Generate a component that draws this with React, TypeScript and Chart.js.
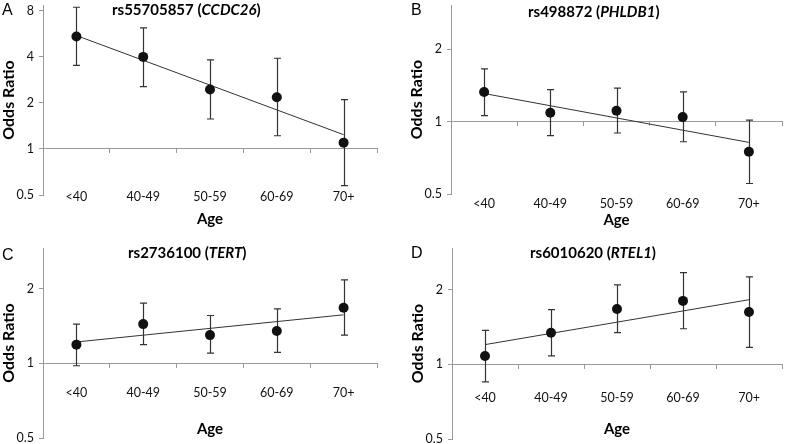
import React, { useEffect, useRef } from "react";
import { Chart, registerables } from "chart.js";

Chart.register(...registerables);

// ---------- data ----------
const ageGroups = ["<40", "40-49", "50-59", "60-69", "70+"];

const orA = [5.44, 4.0, 2.45, 2.18, 1.1];
const lowA = [3.52, 2.56, 1.57, 1.22, 0.576];
const highA = [8.45, 6.2, 3.83, 3.92, 2.1];
const trendA = [5.52, null, null, null, 1.24];

const orB = [1.33, 1.09, 1.11, 1.045, 0.75];
const lowB = [1.06, 0.875, 0.897, 0.825, 0.553];
const highB = [1.66, 1.36, 1.38, 1.33, 1.016];
const trendB = [1.31, null, null, null, 0.82];

const orC = [1.19, 1.44, 1.3, 1.35, 1.675];
const lowC = [0.978, 1.19, 1.1, 1.107, 1.3];
const highC = [1.44, 1.75, 1.56, 1.66, 2.17];
const trendC = [1.22, null, null, null, 1.57];

const orD = [1.08, 1.34, 1.67, 1.8, 1.625];
const lowD = [0.85, 1.08, 1.34, 1.39, 1.17];
const highD = [1.37, 1.66, 2.09, 2.34, 2.25];
const trendD = [1.2, null, null, null, 1.82];

const ticksA = [0.5, 1, 2, 4, 8];
const ticksBCD = [0.5, 1, 2];

const yTitle = "Odds Ratio";
const xTitle = "Age";

// ---------- style ----------
const FONT = "Lato, 'Noto Sans', sans-serif";
const AXIS = "#9a9a9a";
const TEXT = "#111111";
const MARK = "#111111";
const BAR = "#333333";

type PanelCfg = {
  letter: string;
  letterX: number;
  letterY: number;
  title: { t: string; italic: boolean }[];
  titleX: number;
  titleY: number;
  or: number[];
  low: number[];
  high: number[];
  trend: (number | null)[];
  ticks: number[];
  yMax: number;
  pad: { left: number; top: number; right: number; bottom: number };
  yWidth: number;
  xLabelPad: number;
  xHeight: number;
};

const panels: PanelCfg[] = [
  {
    letter: "A", letterX: 2, letterY: 14.5,
    title: [{ t: "rs55705857 (", italic: false }, { t: "CCDC26", italic: true }, { t: ")", italic: false }],
    titleX: 112, titleY: 10,
    or: orA, low: lowA, high: highA, trend: trendA, ticks: ticksA, yMax: 8.74,
    pad: { left: 0, top: 0, right: 410, bottom: 249 }, yWidth: 43,
    xLabelPad: 36.5, xHeight: 79,
  },
  {
    letter: "B", letterX: 411, letterY: 14.5,
    title: [{ t: "rs498872 (", italic: false }, { t: "PHLDB1", italic: true }, { t: ")", italic: false }],
    titleX: 528, titleY: 12,
    or: orB, low: lowB, high: highB, trend: trendB, ticks: ticksBCD, yMax: 3.06,
    pad: { left: 408, top: 0, right: 0, bottom: 250 }, yWidth: 43,
    xLabelPad: 70.5, xHeight: 107,
  },
  {
    letter: "C", letterX: 2, letterY: 260,
    title: [{ t: "rs2736100 (", italic: false }, { t: "TERT", italic: true }, { t: ")", italic: false }],
    titleX: 128, titleY: 253,
    or: orC, low: lowC, high: highC, trend: trendC, ticks: ticksBCD, yMax: 2.92,
    pad: { left: 0, top: 248, right: 410, bottom: 6 }, yWidth: 43,
    xLabelPad: 18.2, xHeight: 74.6,
  },
  {
    letter: "D", letterX: 411, letterY: 258,
    title: [{ t: "rs6010620 (", italic: false }, { t: "RTEL1", italic: true }, { t: ")", italic: false }],
    titleX: 530, titleY: 253,
    or: orD, low: lowD, high: highD, trend: trendD, ticks: ticksBCD, yMax: 2.94,
    pad: { left: 409, top: 248, right: 1, bottom: 5 }, yWidth: 43,
    xLabelPad: 22.2, xHeight: 73.6,
  },
];

// ---------- plugins ----------
const errorBars = {
  id: "errorBars",
  beforeDatasetsDraw(chart: any, _args: any, opts: any) {
    const { ctx } = chart;
    const xs = chart.scales.x;
    const ys = chart.scales.y;
    const low: number[] = opts.low || [];
    const high: number[] = opts.high || [];
    ctx.save();
    ctx.strokeStyle = BAR;
    ctx.lineWidth = 1.2;
    for (let i = 0; i < low.length; i++) {
      const x = Math.round(xs.getPixelForValue(i)) + 0.5;
      const y1 = ys.getPixelForValue(low[i]);
      const y2 = ys.getPixelForValue(high[i]);
      ctx.beginPath();
      ctx.moveTo(x, y1);
      ctx.lineTo(x, y2);
      ctx.moveTo(x - 3.5, y1);
      ctx.lineTo(x + 3.5, y1);
      ctx.moveTo(x - 3.5, y2);
      ctx.lineTo(x + 3.5, y2);
      ctx.stroke();
    }
    ctx.restore();
  },
};

const panelText = {
  id: "panelText",
  afterDraw(chart: any, _args: any, opts: any) {
    const { ctx } = chart;
    ctx.save();
    ctx.fillStyle = "#000";
    ctx.textAlign = "left";
    ctx.textBaseline = "alphabetic";
    ctx.font = "16px 'Liberation Sans', Arial, sans-serif";
    ctx.fillText(opts.letter, opts.letterX, opts.letterY);
    ctx.textBaseline = "middle";
    let x = opts.titleX;
    for (const part of opts.title) {
      ctx.font = `${part.italic ? "italic " : ""}bold 15px ${FONT}`;
      ctx.fillText(part.t, x, opts.titleY);
      x += ctx.measureText(part.t).width;
    }
    ctx.restore();
  },
};

function Panel({ cfg }: { cfg: PanelCfg }) {
  const ref = useRef<HTMLCanvasElement>(null);
  useEffect(() => {
    const chart = new Chart(ref.current as HTMLCanvasElement, {
      type: "line",
      data: {
        labels: ageGroups,
        datasets: [
          {
            data: cfg.or,
            showLine: false,
            pointRadius: 5,
            pointHoverRadius: 5,
            pointBackgroundColor: MARK,
            pointBorderColor: MARK,
            pointBorderWidth: 0,
            order: 0,
          },
          {
            data: cfg.trend,
            spanGaps: true,
            borderColor: BAR,
            borderWidth: 1,
            pointRadius: 0,
            tension: 0,
            order: 1,
          },
        ],
      },
      options: {
        responsive: false,
        animation: false,
        devicePixelRatio: 1,
        layout: { padding: cfg.pad },
        plugins: {
          legend: { display: false },
          tooltip: { enabled: false },
          title: { display: false },
          errorBars: { low: cfg.low, high: cfg.high },
          panelText: {
            letter: cfg.letter, letterX: cfg.letterX, letterY: cfg.letterY,
            title: cfg.title, titleX: cfg.titleX, titleY: cfg.titleY,
          },
        } as any,
        scales: {
          x: {
            type: "category",
            position: { y: 1 } as any,
            offset: true,
            grid: {
              offset: true,
              drawOnChartArea: false,
              drawTicks: true,
              tickLength: 4,
              color: AXIS,
            },
            border: { color: AXIS, width: 1 },
            ticks: {
              color: TEXT,
              font: { family: FONT, size: 12.5 },
              padding: cfg.xLabelPad,
              maxRotation: 0,
              autoSkip: false,
            },
            title: {
              display: true,
              text: xTitle,
              color: "#000",
              font: { family: FONT, size: 15, weight: "bold" },
              padding: { top: 0, bottom: 0 },
            },
            afterFit: (s: any) => {
              s.height = cfg.xHeight;
              s.paddingLeft = 0;
              s.paddingRight = 0;
            },
          },
          y: {
            type: "logarithmic",
            min: 0.5,
            max: cfg.yMax,
            afterBuildTicks: (s: any) => {
              s.ticks = cfg.ticks.map((v) => ({ value: v }));
            },
            afterFit: (s: any) => {
              s.width = cfg.yWidth;
              s.paddingTop = 0;
              s.paddingBottom = 0;
            },
            grid: {
              drawOnChartArea: false,
              drawTicks: true,
              tickLength: 4,
              color: AXIS,
            },
            border: { color: AXIS, width: 1 },
            ticks: {
              color: TEXT,
              font: { family: FONT, size: 12.5 },
              padding: 5,
              callback: (v: any) => String(v),
            },
            title: {
              display: true,
              text: yTitle,
              color: "#000",
              font: { family: FONT, size: 16, weight: "bold" },
              padding: { top: -1, bottom: 0 },
            },
          },
        },
      },
      plugins: [errorBars, panelText],
    } as any);
    return () => chart.destroy();
  }, [cfg]);
  return (
    <canvas
      ref={ref}
      width={787}
      height={444}
      style={{ position: "absolute", left: 0, top: 0, width: 787, height: 444 }}
    />
  );
}

export default function App() {
  return (
    <div
      style={{
        position: "fixed",
        left: 0,
        top: 0,
        width: 787,
        height: 444,
        background: "#fff",
        overflow: "hidden",
      }}
    >
      {panels.map((p) => (
        <Panel key={p.letter} cfg={p} />
      ))}
    </div>
  );
}
